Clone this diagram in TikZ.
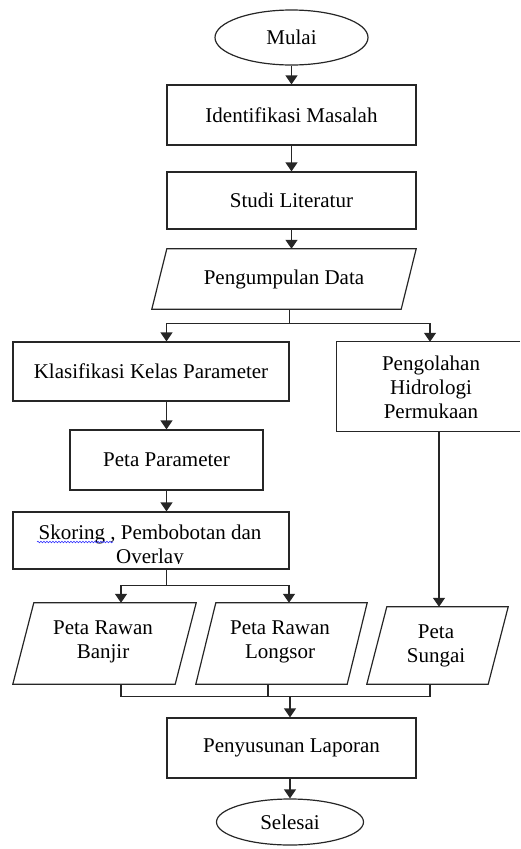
\documentclass[tikz,border=0pt]{standalone}
\usepackage{fontspec}
\setmainfont{Liberation Serif}
\usetikzlibrary{shapes.geometric,arrows.meta,calc,decorations.pathmorphing}
\begin{document}
\begin{tikzpicture}[x=1pt,y=-1pt,
  every node/.style={font=\fontsize{21}{24}\selectfont, inner sep=0pt, align=center},
  line/.style={line width=1.2pt, draw=black!85},
  arr/.style={line width=1.2pt, draw=black!85, -{Triangle[length=9pt,width=12pt]}},
  boxn/.style={draw=black!85, line width=1.2pt, rectangle},
  termn/.style={draw=black!85, line width=1.2pt, ellipse},
  ghost/.style={draw=none, rectangle}]
\useasboundingbox (0,0) rectangle (520,849);

% terminals and boxes
\node[termn, minimum width=153pt, minimum height=55pt] (mulai) at (291.5,37.5) {Mulai};
\node[boxn, minimum width=249pt, minimum height=60pt] (ident) at (291.5,115) {Identifikasi Masalah};
\node[boxn, minimum width=249pt, minimum height=57pt] (studi) at (291.5,200.5) {Studi Literatur};

% Pengumpulan Data (parallelogram)
\node[ghost, minimum width=264pt, minimum height=60pt] (pd) at (284,279) {Pengumpulan Data};
\draw[line] (pd.south west) -- ($(pd.north west)+(15,0)$) -- (pd.north east) -- ($(pd.south east)+(-15,0)$) -- cycle;

\node[boxn, minimum width=276pt, minimum height=59pt] (klas) at (151,371.5) {Klasifikasi Kelas Parameter};
\node[ghost, minimum width=183pt, minimum height=89pt] (peng) at (428.5,386.5) {};
\node (pengt) at (431,387) {Pengolahan\\Hidrologi\\Permukaan};
\draw[line] (peng.north east) -- (peng.north west) -- (peng.south west) -- (peng.south east);

\node[boxn, minimum width=193pt, minimum height=60pt] (pp) at (166.5,460) {Peta Parameter};
\node[boxn, minimum width=276pt, minimum height=57pt] (sk) at (151,540.5) {};
\begin{scope}
  \clip (13,512) rectangle (289,563);
  \node (skt) at (150,546) {Skoring , Pembobotan dan\\Overlay};
\end{scope}
\draw[blue!80, line width=0.6pt, decorate, decoration={snake, amplitude=0.8pt, segment length=3pt}] (37,542) -- (113,542);

% output parallelograms
\node[ghost, minimum width=183pt, minimum height=81pt] (banjir) at (104.5,643.5) {};
\node (banjirt) at (103,642) {Peta Rawan\\Banjir};
\draw[line] (banjir.south west) -- ($(banjir.north west)+(21,0)$) -- (banjir.north east) -- ($(banjir.south east)+(-21,0)$) -- cycle;

\node[ghost, minimum width=171pt, minimum height=81pt] (longsor) at (281.5,643.5) {};
\node (longsort) at (280,642) {Peta Rawan\\Longsor};
\draw[line] (longsor.south west) -- ($(longsor.north west)+(20,0)$) -- (longsor.north east) -- ($(longsor.south east)+(-20,0)$) -- cycle;

\node[ghost, minimum width=141pt, minimum height=77pt] (sungai) at (437.5,645.5) {};
\node (sungait) at (436,646) {Peta\\Sungai};
\draw[line] (sungai.south west) -- ($(sungai.north west)+(20,0)$) -- (sungai.north east) -- ($(sungai.south east)+(-20,0)$) -- cycle;

\node[boxn, minimum width=249pt, minimum height=60pt] (penyu) at (291.5,748) {Penyusunan Laporan};
\node[termn, minimum width=147pt, minimum height=46pt] (selesai) at (290,822) {Selesai};

% connectors
\draw[arr] (mulai.south) -- (ident.north);
\draw[arr] (ident.south) -- (studi.north);
\draw[arr] (studi.south) -- (studi.south |- pd.north);

\coordinate (j1) at ($(studi.south |- pd.south)+(-2,14)$);
\draw[line] ($(studi.south |- pd.south)+(-2,0)$) -- (j1);
\draw[arr] (j1) -| (pp.north |- klas.north);
\draw[arr] (j1) -| ($(peng.north)+(1.5,0)$);

\draw[arr] (pp.north |- klas.south) -- (pp.north);
\draw[arr] (pp.south) -- (pp.south |- sk.north);

\coordinate (j2) at ($(pp.south |- sk.south)+(0,16)$);
\draw[line] (pp.south |- sk.south) -- (j2);
\draw[arr] (j2) -| ($(banjir.north)+(16.5,0)$);
\draw[arr] (j2) -| ($(longsor.north)+(7.5,0)$);

\draw[arr] ($(peng.south)+(10.5,0)$) -- ($(sungai.north)+(1.5,0)$);

\coordinate (j3) at ($(penyu.north)+(-1.5,-21)$);
\draw[line] ($(banjir.south)+(16.5,0)$) |- (j3);
\draw[line] ($(longsor.south)+(-13.5,0)$) -- ($(longsor.south)+(-13.5,13)$);
\draw[line] ($(sungai.south)+(-7.5,0)$) |- (j3);
\draw[arr] (j3) -- (j3 |- penyu.north);
\draw[arr] (selesai.north |- penyu.south) -- (selesai.north);
\end{tikzpicture}
\end{document}
